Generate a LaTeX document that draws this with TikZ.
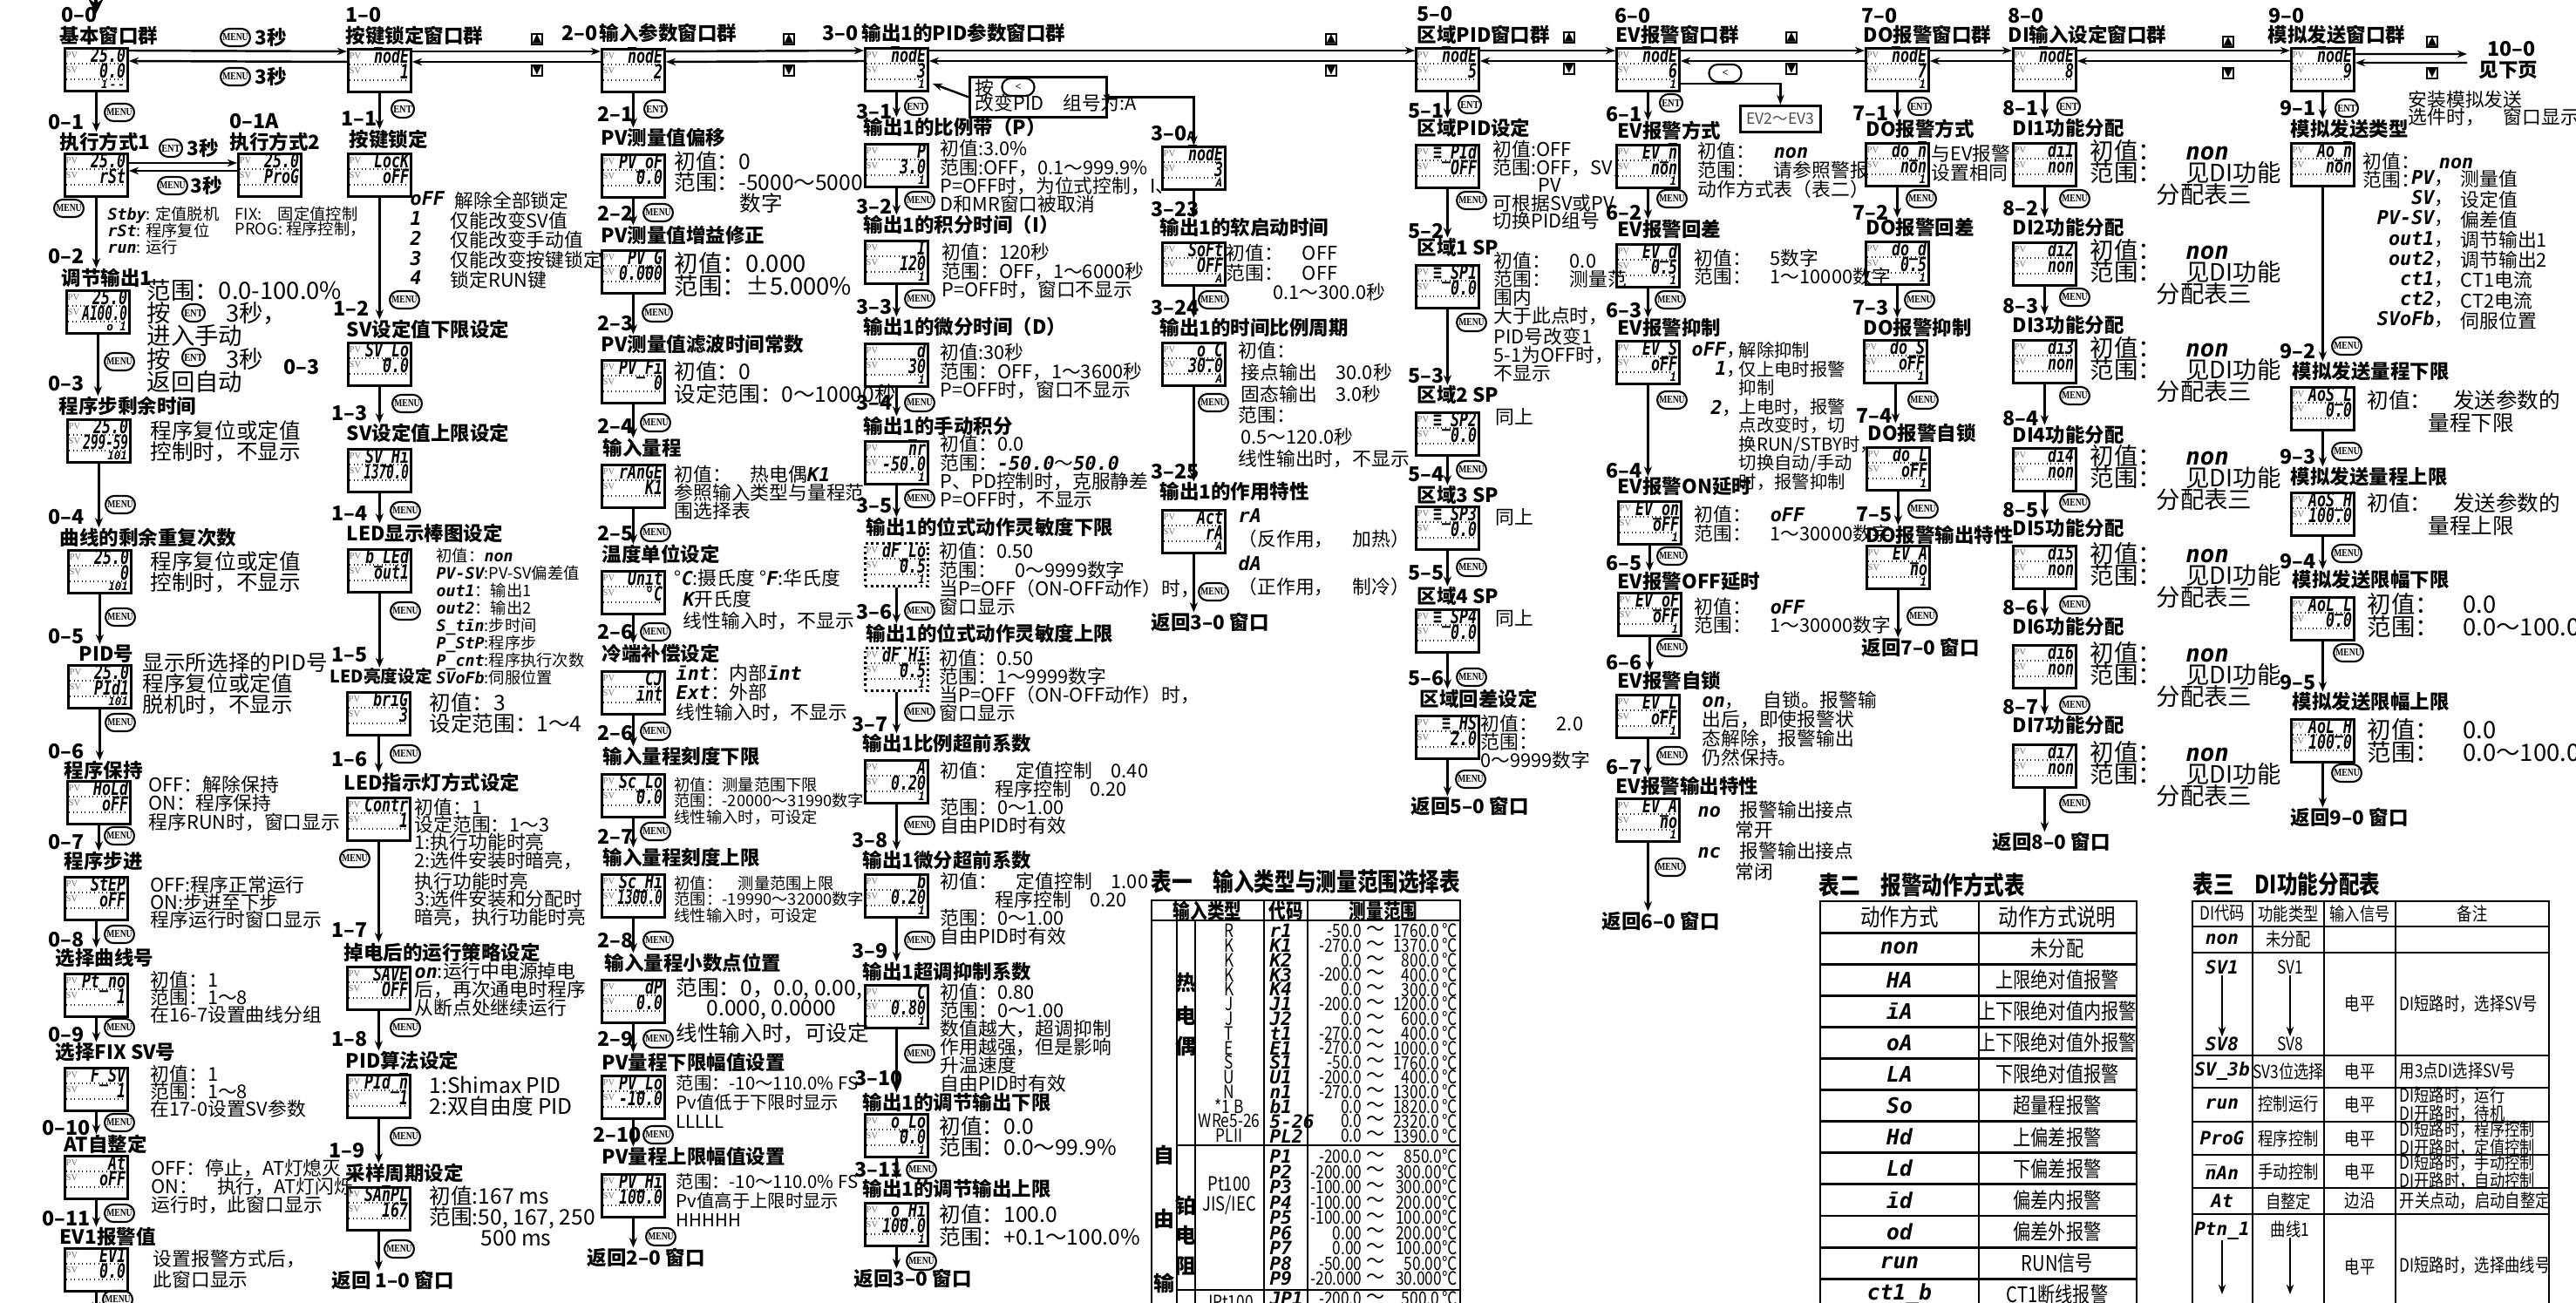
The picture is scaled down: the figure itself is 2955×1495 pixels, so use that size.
\documentclass[tikz,border=0pt]{standalone}
\usepackage{fontspec}
\usepackage{graphicx}
\setmainfont{Noto Sans CJK SC}
\newfontfamily\segfont{DejaVu Sans Mono}
\newfontfamily\keyfont{Liberation Serif}
\newfontfamily\symfont{DejaVu Sans}
\usetikzlibrary{arrows.meta,calc,positioning,shapes.misc}

\newcommand\sevseg[1]{{\segfont\bfseries\itshape #1}}
\newcommand\nbar{$\overline{\mbox{n}}$}
\newcommand\nrw[1]{\scalebox{0.86}[1]{#1}}
\newcommand\cnd[1]{\scalebox{0.82}[1]{#1}}
\newcommand\kmenu{\scalebox{0.78}[1]{MENU}}
\newcommand\kent{\scalebox{0.85}[1]{ENT}}

\tikzset{
  lcdbox/.style={draw, line width=0.8pt, minimum width=7.2mm, minimum height=4.9mm, inner sep=0pt, anchor=north west},
  lcddot/.style={lcdbox, densely dotted},
  lcdtag/.style={font=\keyfont\fontsize{3}{3.2}\selectfont, text=black!55, inner sep=0pt, anchor=west},
  seg/.style={font=\segfont\bfseries\itshape\fontsize{6.4}{6.4}\selectfont, inner sep=0pt, anchor=base east},
  segs/.style={font=\segfont\bfseries\itshape\fontsize{3.6}{3.6}\selectfont, inner sep=0pt, anchor=east},
  key/.style={draw, rounded rectangle, line width=0.6pt, font=\keyfont\bfseries\fontsize{3.5}{3.5}\selectfont, inner xsep=0.4pt, inner ysep=0.6pt, minimum height=2mm},
  sec/.style={font=\bfseries\fontsize{6.4}{6.4}\selectfont, inner sep=0pt},
  num/.style={font=\bfseries\fontsize{6.6}{6.6}\selectfont, inner sep=0pt, anchor=west},
  ttl/.style={font=\bfseries\fontsize{6.4}{6.4}\selectfont, inner sep=0pt, anchor=west},
  dsc/.style={font=\fontsize{6.2}{#1}\selectfont, align=left, anchor=north west, inner sep=0pt, yshift=1mm},
  dsc/.default=6.1,
  dscs/.style={font=\fontsize{5.2}{#1}\selectfont, align=left, anchor=north west, inner sep=0pt, yshift=0.8mm},
  dscs/.default=5.4,
  dscl/.style={font=\fontsize{7}{#1}\selectfont, align=left, anchor=north west, inner sep=0pt, yshift=1.1mm},
  dscl/.default=6.8,
  dscx/.style={font=\fontsize{7.8}{#1}\selectfont, align=left, anchor=north west, inner sep=0pt, yshift=1.25mm},
  dscx/.default=7.5,
  flow/.style={line width=1pt, -{Stealth[length=3.2pt,width=2.6pt]}},
  link/.style={line width=0.7pt, -{Stealth[length=3.2pt,width=2.4pt]}},
  updn/.style={draw, line width=0.4pt, inner sep=0.2pt, font=\symfont\fontsize{4}{4}\selectfont},
  note/.style={draw, line width=0.8pt, anchor=north west, inner sep=0pt},
  tbl/.style={font=\fontsize{6}{6}\selectfont, inner sep=0pt},
  tblh/.style={font=\bfseries\fontsize{6.8}{6.8}\selectfont, inner sep=0pt},
}

% LCD window: style, name, x, y, upper, lower, small
\newcommand\lcd[7][lcdbox]{%
  \node[#1] (#2) at (#3,#4) {};
  \node[lcdtag] (#2pv) at ([shift={(2,9)}]#2.north west) {PV};
  \node[lcdtag] (#2sv) at ([shift={(2,26)}]#2.north west) {SV};
  \node[seg] (#2up) at ([shift={(-3,17.5)}]#2.north east) {\scalebox{0.74}[1]{#5}};
  \node[seg] (#2lo) at ([shift={(-3,35.5)}]#2.north east) {\scalebox{0.74}[1]{#6}};
  \draw[densely dotted, line width=0.3pt] ([shift={(3,19)}]#2.north west) -- ([shift={(-3,19)}]#2.north east);
  \draw[densely dotted, line width=0.3pt] ([shift={(3,37)}]#2.north west) -- ([shift={(-3,37)}]#2.north east);
  \node[segs] (#2sm) at ([shift={(-4,43)}]#2.north east) {#7};
}

\begin{document}
\begin{tikzpicture}[x=0.1mm,y=-0.1mm]
\path[use as bounding box, fill=white] (0,0) rectangle (2955,1495);
\clip (0,0) rectangle (2955,1495);

% ---------- 0: basic windows
\node[num] (n00) at (70,17) {0–0};
\coordinate (in0) at (110,0);
\coordinate (in0e) at (110,16);
\draw[line width=1pt, -{Stealth[length=5pt,width=5pt]}] (in0) -- (in0e);
\node[ttl] (t00) at (68,41) {基本窗口群};
\lcd{b00}{73}{54}{25.0}{0.0}{1\,-\,-}
\node[key] (k00a) at (270,43) {\kmenu};
\node[sec, right=0.4mm of k00a] (s00a) {3秒};
\node[key] (k00b) at (270,88) {\kmenu};
\node[sec, right=0.4mm of k00b] (s00b) {3秒};

\node[num] (n01) at (55,140) {0–1};
\node[ttl] (t01) at (68,163) {执行方式1};
\lcd{b01}{73}{175}{25.0}{rSt}{}
\node[num] (n01a) at (263,139) {0–1A};
\node[ttl] (t01a) at (263,163) {执行方式2};
\lcd{b01a}{272}{175}{25.0}{ProG}{}
\draw[link] ([yshift=-1.2mm]b01.north east) -- ([yshift=-1.2mm]b01a.north west);
\draw[link] ([yshift=-2.1mm]b01a.north west) -- ([yshift=-2.1mm]b01.north east);
\node[key] (k01b) at (196,170) {\kent};
\node[sec, right=0.4mm of k01b] (s01b) {3秒};
\node[key] (k01c) at (198,213) {\kmenu};
\node[sec, right=0.2mm of k01c] (s01c) {3秒};
\node[dscs=5.5] (d01) at (123,244) {\sevseg{Stby}: 定值脱机\\\sevseg{rSt}: 程序复位\\\sevseg{run}: 运行};
\node[dscs=4.9] (d01a) at (269,244) {FIX:\quad 固定值控制\\PROG: 程序控制，};

\node[num] (n02) at (55,294) {0–2};
\node[ttl] (t02) at (70,319) {调节输出1};
\lcd{b02}{75}{332}{25.0}{\nrw{A100.0}}{o\ 1}
\node[dscx] (d02) at (168,332) {范围：0.0-100.0\%\\按\hspace*{6.3mm}3秒，\\进入手动\\按\hspace*{6.3mm}3秒\\返回自动};
\node[key] (k02a) at (222,359) {\kent};
\node[key] (k02b) at (222,410) {\kent};
\node[num] (n03x) at (325,421) {0–3};

\node[num] (n03) at (55,440) {0–3};
\node[ttl] (t03) at (67,466) {程序步剩余时间};
\lcd{b03}{76}{480}{25.0}{\nrw{299-59}}{101}
\node[dscl] (d03) at (172,493) {程序复位或定值\\控制时，不显示};

\node[num] (n04) at (55,593) {0–4};
\node[ttl] (t04) at (68,617) {曲线的剩余重复次数};
\lcd{b04}{77}{630}{25.0}{0}{101}
\node[dscl] (d04) at (172,643) {程序复位或定值\\控制时，不显示};

\node[num] (n05) at (55,730) {0–5};
\node[ttl] (t05) at (90,750) {PID号};
\lcd{b05}{77}{762}{25.0}{PId1}{101}
\node[dscl] (d05) at (163,759) {显示所选择的PID号\\程序复位或定值\\脱机时，不显示};

\node[num] (n06) at (55,862) {0–6};
\node[ttl] (t06) at (73,884) {程序保持};
\lcd{b06}{76}{895}{HoLd}{oFF}{}
\node[dsc] (d06) at (170,899) {OFF：解除保持\\ON：程序保持\\程序RUN时，窗口显示};

\node[num] (n07) at (55,966) {0–7};
\node[ttl] (t07) at (73,988) {程序步进};
\lcd{b07}{73}{1005}{StEP}{oFF}{}
\node[dsc=5.8] (d07) at (172,1014) {OFF:程序正常运行\\ON:步进至下步\\程序运行时窗口显示};

\node[num] (n08) at (55,1078) {0–8};
\node[ttl] (t08) at (63,1099) {选择曲线号};
\lcd{b08}{73}{1116}{Pt\_no}{1}{}
\node[dsc=5.8] (d08) at (172,1123) {初值：1\\范围：1～8\\在16-7设置曲线分组};

\node[num] (n09) at (55,1187) {0–9};
\node[ttl] (t09) at (63,1207) {选择FIX SV号};
\lcd{b09}{73}{1224}{F\_SV}{1}{}
\node[dsc=5.8] (d09) at (172,1231) {初值：1\\范围：1～8\\在17-0设置SV参数};

\node[num] (n010) at (48,1294) {0–10};
\node[ttl] (t010) at (73,1313) {AT自整定};
\lcd{b010}{73}{1325}{At}{oFF}{}
\node[dsc] (d010) at (173,1339) {OFF：停止，AT灯熄灭\\ON：\quad 执行，AT灯闪烁\\运行时，此窗口显示};

\node[num] (n011) at (48,1398) {0–11};
\node[ttl] (t011) at (68,1419) {EV1报警值};
\lcd{b011}{73}{1431}{EV1}{0.0}{}
\node[dsc=5.5] (d011) at (175,1443) {设置报警方式后，\\此窗口显示};
\coordinate (e011) at (109,1505);
\draw[flow] (b011.south) -- (b011.south |- e011);

\foreach \n/\x/\y in {01/137/129, 02/79/239, 03/137/415, 04/138/579, 05/138/708, 06/138/829, 07/137/959, 08/137/1072, 09/137/1179, 010/137/1288, 011/137/1392, 012/135/1491}
  \node[key] (k\n) at (\x,\y) {\kmenu};

% ---------- 1: key lock
\node[num] (n10) at (396,17) {1–0};
\node[ttl] (t10) at (396,41) {按键锁定窗口群};
\lcd{b10}{398}{55}{\nbar odE}{1}{}

\node[num] (n11) at (391,136) {1–1};
\node[ttl] (t11) at (400,160) {按键锁定};
\lcd{b11}{398}{175}{LocK}{oFF}{}
\node[dsc=6.5] (d11a) at (470,229) {\sevseg{oFF}\\\sevseg{1}\\\sevseg{2}\\\sevseg{3}\\\sevseg{4}};
\node[dsc=6.5] (d11b) at (516,229) {\hspace*{0.5mm}解除全部锁定\\仅能改变SV值\\仅能改变手动值\\仅能改变按键锁定\\锁定RUN键};

\node[num] (n12) at (382,354) {1–2};
\node[ttl] (t12) at (397,378) {SV设定值下限设定};
\lcd{b12}{398}{392}{SV\_Lo}{0.0}{}

\node[num] (n13) at (380,474) {1–3};
\node[ttl] (t13) at (397,497) {SV设定值上限设定};
\lcd{b13}{398}{514}{SV\_Hī}{\nrw{1370.0}}{}

\node[num] (n14) at (380,589) {1–4};
\node[ttl] (t14) at (397,612) {LED显示棒图设定};
\lcd{b14}{398}{629}{b\_LEd}{out1}{}
\node[dscs=5.7] (d14) at (500,636) {初值：\sevseg{non}\\\sevseg{PV-SV}:PV-SV偏差值\\\sevseg{out1}：输出1\\\sevseg{out2}：输出2\\\sevseg{S\_tīn}:步时间\\\sevseg{P\_StP}:程序步\\\sevseg{P\_cnt}:程序执行次数\\\sevseg{SVoFb}:伺服位置};

\node[num] (n15) at (380,751) {1–5};
\node[ttl, font=\bfseries\fontsize{5.6}{5.6}\selectfont] (t15) at (378,776) {LED亮度设定};
\lcd{b15}{397}{793}{brīG}{3}{}
\node[dscl] (d15) at (492,805) {初值：3\\设定范围：1～4};

\node[num] (n16) at (380,871) {1–6};
\node[ttl] (t16) at (394,898) {LED指示灯方式设定};
\lcd{b16}{397}{914}{Contr}{1}{}
\node[dsc=5.8] (d16) at (475,925) {初值：1\\设定范围：1～3\\1:执行功能时亮\\2:选件安装时暗亮，\\执行功能时亮\\3:选件安装和分配时\\暗亮，执行功能时亮};

\node[num] (n17) at (380,1067) {1–7};
\node[ttl] (t17) at (394,1093) {掉电后的运行策略设定};
\lcd{b17}{397}{1108}{SAVE}{OFF}{}
\node[dsc=6] (d17) at (475,1113) {\sevseg{on}:运行中电源掉电\\后，再次通电时程序\\从断点处继续运行};

\node[num] (n18) at (380,1192) {1–8};
\node[ttl] (t18) at (396,1217) {PID算法设定};
\lcd{b18}{397}{1232}{PId\_\nbar}{1}{}
\node[dscl] (d18) at (492,1245) {1:Shimax PID\\2:双自由度 PID};

\node[num] (n19) at (377,1320) {1–9};
\node[ttl] (t19) at (396,1346) {采样周期设定};
\lcd{b19}{397}{1361}{SA\nbar PL}{167}{}
\node[dscl] (d19) at (492,1371) {初值:167 ms\\范围:50, 167, 250\\\hspace*{5.9mm}500 ms};
\node[ttl] (t1e) at (380,1469) {返回 1–0 窗口};

\node[key] (k11) at (462,125) {\kent};
\foreach \n/\x/\y in {12/464/344, 13/467/463, 14/465/586, 15/465/701, 16/465/865, 17/407/985, 18/465/1179, 19/465/1304, 1e/458/1433}
  \node[key] (k\n) at (\x,\y) {\kmenu};

% ---------- 2: input parameters
\node[num] (n20) at (644,38) {2–0};
\node[ttl] (t20) at (687,38) {输入参数窗口群};
\lcd{b20}{689}{55}{\nbar odE}{2}{}

\node[num] (n21) at (685,131) {2–1};
\node[ttl] (t21) at (689,158) {PV测量值偏移};
\lcd{b21}{689}{176}{PV\_oF}{0.0}{}
\node[dscl] (d21) at (773,184) {初值：0\\范围：-5000～5000\\\hspace*{7.5mm}数字};

\node[num] (n22) at (685,245) {2–2};
\node[ttl] (t22) at (689,270) {PV测量值增益修正};
\lcd{b22}{689}{286}{PV\_G}{0.000}{}
\node[dscx] (d22) at (773,301) {初值：0.000\\范围：±5.000\%};

\node[num] (n23) at (685,371) {2–3};
\node[ttl] (t23) at (689,395) {PV测量值滤波时间常数};
\lcd{b23}{689}{412}{PV\_Fī}{0}{}
\node[dscl=6] (d23) at (773,425) {初值：0\\设定范围：0～10000秒};

\node[num] (n24) at (685,489) {2–4};
\node[ttl] (t24) at (691,514) {输入量程};
\lcd{b24}{689}{532}{rAnGE}{K1}{}
\node[dsc=6] (d24) at (773,543) {初值：\quad 热电偶\sevseg{K1}\\参照输入类型与量程范\\围选择表};

\node[num] (n25) at (685,612) {2–5};
\node[ttl] (t25) at (690,636) {温度单位设定};
\lcd{b25}{689}{654}{Unīt}{°C}{}
\node[dsc=7] (d25) at (773,662) {°\sevseg{C}:摄氏度 °\sevseg{F}:华氏度\\\hspace*{1mm}\sevseg{K}开氏度\\\hspace*{1mm}线性输入时，不显示};

\node[num] (n26) at (685,725) {2–6};
\node[ttl] (t26) at (690,750) {冷端补偿设定};
\lcd{b26}{689}{769}{CJ}{īnt}{}
\node[dsc=6.5] (d26) at (775,771) {\sevseg{īnt}：内部\sevseg{īnt}\\\sevseg{Ext}：外部\\线性输入时，不显示};

\node[num] (n27) at (685,841) {2–6};
\node[ttl] (t27) at (691,868) {输入量程刻度下限};
\lcd{b27}{689}{887}{Sc\_Lo}{0.0}{}
\node[dscs=5.3] (d27) at (773,899) {初值：测量范围下限\\范围：-20000～31990数字\\线性输入时，可设定};

\node[num] (n28) at (685,960) {2–7};
\node[ttl] (t28) at (691,984) {输入量程刻度上限};
\lcd{b28}{689}{1002}{Sc\_Hī}{\nrw{1300.0}}{}
\node[dscs=5.3] (d28) at (773,1012) {初值：\quad 测量范围上限\\范围：-19990～32000数字\\线性输入时，可设定};

\node[num] (n29) at (685,1079) {2–8};
\node[ttl] (t29) at (693,1105) {输入量程小数点位置};
\lcd{b29}{689}{1123}{dP}{0.0}{}
\node[dscl=6.5] (d29) at (775,1132) {范围：0，0.0, 0.00,\\\hspace*{3.5mm}0.000, 0.0000\\线性输入时，可设定};

\node[num] (n210) at (685,1192) {2–9};
\node[ttl] (t210) at (690,1219) {PV量程下限幅值设置};
\lcd{b210}{689}{1233}{PV\_Lo}{-10.0}{}
\node[dsc=6.2, font=\fontsize{5.8}{6.2}\selectfont] (d210) at (775,1243) {范围：-10～110.0\% FS\\Pv值低于下限时显示\\LLLLL};

\node[num] (n211) at (680,1302) {2–10};
\node[ttl] (t211) at (690,1327) {PV量程上限幅值设置};
\lcd{b211}{689}{1346}{PV\_Hī}{100.0}{}
\node[dsc=6.2, font=\fontsize{5.8}{6.2}\selectfont] (d211) at (775,1356) {范围：-10～110.0\% FS\\Pv值高于上限时显示\\HHHHH};
\node[ttl] (t2e) at (673,1443) {返回2–0 窗口};

\node[key] (k21) at (752,125) {\kent};
\foreach \n/\x/\y in {22/755/244, 23/754/359, 24/752/485, 25/752/611, 26/752/725, 27/752/839, 28/752/954, 29/755/1079, 210/755/1192, 211/755/1302, 2e/758/1419}
  \node[key] (k\n) at (\x,\y) {\kmenu};

% ---------- 3: PID parameters of output 1
\node[num] (n30) at (943,38) {3–0};
\node[ttl] (t30) at (988,38) {输出1的PID参数窗口群};
\lcd{b30}{991}{54}{\nbar odE}{3}{1}
\node[note, minimum width=15.7mm, minimum height=4.6mm] (pidn) at (1111,87) {};
\node[dsc] (pidt1) at (1118,100) {按};
\node[key, minimum width=4mm] (kpid) at (1168,100) {<};
\node[dsc] (pidt2) at (1118,117) {改变PID\quad 组号为:A};
\draw[link] (pidn.west) -- ([shift={(4,42)}]b30.north east);

\node[num] (n31) at (982,128) {3–1};
\node[ttl] (t31) at (990,146) {输出1的比例带（P）};
\lcd{b31}{991}{164}{P}{3.0}{1}
\node[dsc=6] (d31) at (1078,170) {初值:3.0\%\\范围:OFF，0.1～999.9\%\\P=OFF时，为位式控制，I、\\D和MR窗口被取消};

\node[num] (n32) at (982,237) {3–2};
\node[ttl] (t32) at (990,258) {输出1的积分时间（I）};
\lcd{b32}{991}{275}{I}{120}{1}
\node[dsc=6] (d32) at (1080,289) {初值：120秒\\范围：OFF，1～6000秒\\P=OFF时，窗口不显示};

\node[num] (n33) at (982,352) {3–3};
\node[ttl] (t33) at (990,375) {输出1的微分时间（D）};
\lcd{b33}{991}{393}{d}{30}{1}
\node[dsc=6] (d33) at (1078,404) {初值:30秒\\范围：OFF，1～3600秒\\P=OFF时，窗口不显示};

\node[num] (n34) at (982,462) {3–4};
\node[ttl] (t34) at (990,489) {输出1的手动积分};
\lcd{b34}{991}{505}{\nbar r}{-50.0}{1}
\node[dsc=6] (d34) at (1078,509) {初值：0.0\\范围：\sevseg{-50.0}～\sevseg{50.0}\\P、PD控制时，克服静差\\P=OFF时，不显示};

\node[num] (n35) at (982,580) {3–5};
\node[ttl] (t35) at (993,605) {输出1的位式动作灵敏度下限};
\lcd[lcddot]{b35}{991}{622}{dF\_Lo}{0.5}{1}
\node[dsc=6] (d35) at (1077,632) {初值：0.50\\范围：\quad 0～9999数字\\当P=OFF（ON-OFF动作）时，\\窗口显示};

\node[num] (n36) at (982,702) {3–6};
\node[ttl] (t36) at (993,727) {输出1的位式动作灵敏度上限};
\lcd[lcddot]{b36}{991}{742}{dF\_Hī}{0.5}{1}
\node[dsc=6] (d36) at (1077,754) {初值：0.50\\范围：1～9999数字\\当P=OFF（ON-OFF动作）时，\\窗口显示};

\node[num] (n37) at (977,831) {3–7};
\node[ttl] (t37) at (989,853) {输出1比例超前系数};
\lcd{b37}{991}{871}{A}{0.20}{1}
\node[dsc=6] (d37) at (1078,883) {初值：\quad 定值控制\quad 0.40\\\hspace*{6.3mm}程序控制\quad 0.20\\范围：0～1.00\\自由PID时有效};

\node[num] (n38) at (977,964) {3–8};
\node[ttl] (t38) at (989,987) {输出1微分超前系数};
\lcd{b38}{991}{1002}{b}{0.20}{1}
\node[dsc=6] (d38) at (1078,1010) {初值：\quad 定值控制\quad 1.00\\\hspace*{6.3mm}程序控制\quad 0.20\\范围：0～1.00\\自由PID时有效};

\node[num] (n39) at (977,1091) {3–9};
\node[ttl] (t39) at (989,1115) {输出1超调抑制系数};
\lcd{b39}{991}{1129}{C}{0.80}{1}
\node[dsc=6] (d39) at (1078,1137) {初值：0.80\\范围：0～1.00\\数值越大，超调抑制\\作用越强，但是影响\\升温速度\\自由PID时有效};

\node[num] (n310) at (980,1237) {3–10};
\node[ttl] (t310) at (989,1265) {输出1的调节输出下限};
\lcd{b310}{991}{1277}{o\_Lo}{0.0}{1}
\node[dscl] (d310) at (1077,1291) {初值：0.0\\范围：0.0～99.9\%};

\node[num] (n311) at (980,1342) {3–11};
\node[ttl] (t311) at (989,1364) {输出1的调节输出上限};
\lcd{b311}{991}{1379}{o\_Hī}{100.0}{1}
\node[dscl=6.3] (d311) at (1077,1392) {初值：100.0\\范围：+0.1～100.0\%};
\node[ttl] (t3e) at (979,1467) {返回3–0 窗口};

\node[key] (k31) at (1051,122) {\kent};
\foreach \n/\x/\y in {32/1055/230, 33/1055/343, 34/1055/462, 35/1055/572, 36/1055/701, 37/1055/817, 38/1055/947, 39/1055/1079, 310/1055/1209, 311/1057/1342, 3e/1057/1447}
  \node[key] (k\n) at (\x,\y) {\kmenu};

% ---------- 3-0A
\node[num] (n30a) at (1320,153) {3–0{\fontsize{4}{4}\selectfont A}};
\lcd{b30a}{1332}{167}{\nbar odE}{3}{A}
\draw[link] (pidn.east) -| (b30a.north);
\node[num] (n323) at (1320,240) {3–23};
\node[ttl] (t323) at (1330,261) {输出1的软启动时间};
\lcd{b323}{1332}{277}{SoFt}{OFF}{A}
\node[dsc=6.3] (d323) at (1406,290) {初值：\quad OFF\\范围：\quad OFF\\\hspace*{5.4mm}0.1～300.0秒};
\node[num] (n324) at (1320,353) {3–24};
\node[ttl] (t324) at (1330,376) {输出1的时间比例周期};
\lcd{b324}{1332}{392}{o\_C}{30.0}{A}
\node[dsc=7] (d324) at (1420,402) {初值：\\\hspace*{0.3mm}接点输出\quad 30.0秒\\\hspace*{0.3mm}固态输出\quad 3.0秒\\范围：\\\hspace*{0.3mm}0.5～120.0秒\\线性输出时，不显示};
\node[num] (n325) at (1320,541) {3–25};
\node[ttl] (t325) at (1330,564) {输出1的作用特性};
\lcd{b325}{1332}{584}{Act}{rA}{A}
\node[dsc=7.8] (d325) at (1420,593) {\sevseg{rA}\\（反作用，\quad 加热）\\\sevseg{dA}\\（正作用，\quad 制冷）};
\node[ttl] (t3ae) at (1320,714) {返回3–0 窗口};
\foreach \n/\x/\y in {324/1392/344, 325/1392/462, 3ae/1392/679}
  \node[key] (k\n) at (\x,\y) {\kmenu};

% ---------- 5: zone PID
\node[num] (n50) at (1625,16) {5–0};
\node[ttl] (t50) at (1625,40) {区域PID窗口群};
\lcd{b50}{1623}{54}{\nbar odE}{5}{}
\node[num] (n51) at (1615,127) {5–1};
\node[ttl] (t51) at (1625,147) {区域PID设定};
\lcd{b51}{1623}{165}{≡\_PId}{OFF}{}
\node[dsc=5.8] (d51) at (1712,171) {初值:OFF\\范围:OFF，SV，\\\hspace*{5.2mm}PV\\可根据SV或PV\\切换PID组号};
\node[num] (n52) at (1615,265) {5–2};
\node[ttl] (t52) at (1625,284) {区域1 SP};
\lcd{b52}{1623}{303}{≡\_SP1}{0.0}{}
\node[dsc=5.9] (d52) at (1713,299) {初值：\quad 0.0\\范围：\quad 测量范\\围内\\大于此点时，\\PID号改变1\\5-1为OFF时，\\不显示};
\node[num] (n53) at (1615,431) {5–3};
\node[ttl] (t53) at (1625,453) {区域2 SP};
\lcd{b53}{1623}{472}{≡\_SP2}{0.0}{}
\node[dsc] (d53) at (1715,478) {同上};
\node[num] (n54) at (1615,544) {5–4};
\node[ttl] (t54) at (1625,568) {区域3 SP};
\lcd{b54}{1623}{580}{≡\_SP3}{0.0}{}
\node[dsc] (d54) at (1715,593) {同上};
\node[num] (n55) at (1615,657) {5–5};
\node[ttl] (t55) at (1625,684) {区域4 SP};
\lcd{b55}{1623}{698}{≡\_SP4}{0.0}{}
\node[dsc] (d55) at (1715,709) {同上};
\node[num] (n56) at (1615,778) {5–6};
\node[ttl] (t56) at (1628,802) {区域回差设定};
\lcd{b56}{1623}{820}{≡\_HS}{2.0}{}
\node[dsc=6.1] (d56) at (1698,829) {初值：\quad 2.0\\范围：\\0～9999数字};
\node[ttl] (t5e) at (1618,925) {返回5–0 窗口};
\node[key] (k51) at (1686,120) {\kent};
\foreach \n/\x/\y in {52/1688/230, 53/1688/370, 54/1688/539, 55/1688/651, 56/1688/777, 5e/1687/894}
  \node[key] (k\n) at (\x,\y) {\kmenu};

% ---------- 6: EV alarm
\node[num] (n60) at (1852,18) {6–0};
\node[ttl] (t60) at (1853,40) {EV报警窗口群};
\lcd{b60}{1853}{54}{\nbar odE}{6}{1}
\node[key, minimum width=4mm] (k6l) at (1979,84) {<};
\node[note, minimum width=9.2mm, minimum height=3mm, font=\fontsize{5}{5}\selectfont, text=black!70] (ev23) at (1995,120) {EV2～EV3};
\draw[link] ([shift={(0,42)}]b60.north east) -| (ev23.north);
\node[num] (n61) at (1842,131) {6–1};
\node[ttl] (t61) at (1855,150) {EV报警方式};
\lcd{b61}{1853}{165}{EV\_\nbar}{non}{1}
\node[dsc=6.2] (d61) at (1947,173) {初值：\quad \sevseg{non}\\范围：\quad 请参照警报\\动作方式表（表二）};
\node[num] (n62) at (1842,244) {6–2};
\node[ttl] (t62) at (1855,263) {EV报警回差};
\lcd{b62}{1853}{279}{EV\_d}{0.5}{1}
\node[dsc=6] (d62) at (1943,295) {初值：\quad 5数字\\范围：\quad 1～10000数字};
\node[num] (n63) at (1842,356) {6–3};
\node[ttl] (t63) at (1855,376) {EV报警抑制};
\lcd{b63}{1853}{390}{EV\_S}{oFF}{1}
\node[dsc] (d63a) at (1940,402) {\sevseg{oFF}，};
\node[dsc] (d63b) at (1967,424) {\sevseg{1}，};
\node[dsc] (d63c) at (1962,469) {\sevseg{2}，};
\node[dsc=6.1, font=\fontsize{5.8}{6.1}\selectfont] (d63d) at (1994,402) {解除抑制\\仅上电时报警\\抑制\\上电时，报警\\点改变时，切\\换RUN/STBY时，\\切换自动/手动\\时，报警抑制};
\node[num] (n64) at (1842,540) {6–4};
\node[ttl] (t64) at (1855,558) {EV报警ON延时};
\lcd{b64}{1855}{574}{EV\_on}{oFF}{1}
\node[dsc=6.2] (d64) at (1943,590) {初值：\quad \sevseg{oFF}\\范围：\quad 1～30000数字};
\node[num] (n65) at (1842,646) {6–5};
\node[ttl] (t65) at (1855,667) {EV报警OFF延时};
\lcd{b65}{1855}{679}{EV\_oF}{oFF}{1}
\node[dsc=6.2] (d65) at (1943,695) {初值：\quad \sevseg{oFF}\\范围：\quad 1～30000数字};
\node[num] (n66) at (1842,760) {6–6};
\node[ttl] (t66) at (1855,781) {EV报警自锁};
\lcd{b66}{1853}{796}{EV\_L}{oFF}{1}
\node[dsc=6.3] (d66) at (1952,802) {\sevseg{on}，\quad 自锁。报警输\\出后，即使报警状\\态解除，报警输出\\仍然保持。};
\node[num] (n67) at (1842,880) {6–7};
\node[ttl] (t67) at (1853,902) {EV报警输出特性};
\lcd{b67}{1853}{915}{EV\_A}{no}{1}
\node[dsc=6.8] (d67) at (1947,928) {\sevseg{no}\quad 报警输出接点\\\hspace*{4.3mm}常开\\\sevseg{nc}\quad 报警输出接点\\\hspace*{4.3mm}常闭};
\node[ttl] (t6e) at (1837,1057) {返回6–0 窗口};
\node[key] (k61) at (1917,118) {\kent};
\foreach \n/\x/\y in {62/1918/228, 63/1916/344, 64/1918/459, 65/1918/638, 66/1918/743, 67/1918/867, 6e/1916/995}
  \node[key] (k\n) at (\x,\y) {\kmenu};

% ---------- 7: DO alarm
\node[num] (n70) at (2135,18) {7–0};
\node[ttl] (t70) at (2137,40) {DO报警窗口群};
\lcd{b70}{2139}{54}{\nbar odE}{7}{1}
\node[num] (n71) at (2125,130) {7–1};
\node[ttl] (t71) at (2140,148) {DO报警方式};
\lcd{b71}{2139}{163}{do\_\nbar}{non}{1}
\node[dsc=6.5] (d71) at (2215,175) {与EV报警\\设置相同};
\node[num] (n72) at (2125,244) {7–2};
\node[ttl] (t72) at (2140,261) {DO报警回差};
\lcd{b72}{2139}{276}{do\_d}{0.5}{1}
\node[num] (n73) at (2125,353) {7–3};
\node[ttl] (t73) at (2137,376) {DO报警抑制};
\lcd{b73}{2137}{389}{do\_S}{oFF}{1}
\node[num] (n74) at (2129,477) {7–4};
\node[ttl] (t74) at (2142,497) {DO报警自锁};
\lcd{b74}{2140}{512}{do\_L}{oFF}{1}
\node[num] (n75) at (2129,590) {7–5};
\node[ttl] (t75) at (2140,614) {DO报警输出特性};
\lcd{b75}{2140}{625}{EV\_A}{no}{1}
\node[ttl] (t7e) at (2135,743) {返回7–0 窗口};
\node[key] (k71) at (2202,122) {\kent};
\foreach \n/\x/\y in {72/2204/228, 73/2202/344, 74/2206/459, 75/2206/584, 7e/2205/707}
  \node[key] (k\n) at (\x,\y) {\kmenu};

% ---------- 8: DI input
\node[num] (n80) at (2303,18) {8–0};
\node[ttl] (t80) at (2303,40) {DI输入设定窗口群};
\lcd{b80}{2308}{54}{\nbar odE}{8}{}
\foreach \i/\yn/\yt/\yb in {1/124/147/163, 2/239/261/277, 3/351/373/389, 4/480/499/513, 5/585/606/625, 6/697/719/739, 7/811/832/853} {
  \node[num] (n8\i) at (2297,\yn) {8–\i};
  \node[ttl] (t8\i) at (2308,\yt) {DI\i{}功能分配};
  \lcd{b8\i}{2308}{\yb}{dī\i}{non}{}
  \node[dscx=7.2] (d8\i) at (2397,\yb+9) {初值：\quad \sevseg{non}\\范围：\quad 见DI功能\\\hspace*{7.6mm}分配表三};
}
\node[ttl] (t8e) at (2285,966) {返回8–0 窗口};
\node[key] (k81) at (2373,122) {\kent};
\foreach \n/\y in {82/228, 83/341, 84/454, 85/577, 86/694, 87/809, 8e/922}
  \node[key] (k\n) at (2380,\y) {\kmenu};

% ---------- 9: analog transmission
\node[num] (n90) at (2602,18) {9–0};
\node[ttl] (t90) at (2601,40) {模拟发送窗口群};
\lcd{b90}{2627}{54}{\nbar odE}{9}{}
\node[num] (n100) at (2853,56) {10–0};
\node[ttl] (t100) at (2843,80) {见下页};
\coordinate (c100a) at (2830,62);
\coordinate (c100b) at (2830,72);
\draw[link] ([yshift=-0.8mm]b90.north east) -- (c100a);
\draw[link] (c100b) -- ([yshift=-1.8mm]b90.north east);
\node[dsc=5.9] (d90) at (2762,113) {安装模拟发送\\选件时，\quad 窗口显示};
\node[num] (n91) at (2615,124) {9–1};
\node[ttl] (t91) at (2627,148) {模拟发送类型};
\lcd{b91}{2627}{163}{Ao\_\nbar}{non}{}
\node[dsc=5.8] (d91a) at (2710,185) {初值：\quad \sevseg{non}\\范围：};
\node[dsc=6.6, align=right, anchor=north east] (d91b) at (2815,205) {\sevseg{PV}，\\\sevseg{SV}，\\\sevseg{PV-SV}，\\\sevseg{out1}，\\\sevseg{out2}，\\\sevseg{ct1}，\\\sevseg{ct2}，\\\sevseg{SVoFb}，};
\node[dsc=6.6] (d91c) at (2822,205) {测量值\\设定值\\偏差值\\调节输出1\\调节输出2\\CT1电流\\CT2电流\\伺服位置};
\node[num] (n92) at (2615,403) {9–2};
\node[ttl] (t92) at (2629,426) {模拟发送量程下限};
\lcd{b92}{2627}{443}{AoS\_L}{0.0}{}
\node[dscl=6.2] (d92) at (2715,458) {初值：\quad 发送参数的\\\hspace*{7mm}量程下限};
\node[num] (n93) at (2615,524) {9–3};
\node[ttl] (t93) at (2627,547) {模拟发送量程上限};
\lcd{b93}{2627}{564}{AoS\_H}{100.0}{}
\node[dscl=6.2] (d93) at (2715,576) {初值：\quad 发送参数的\\\hspace*{7mm}量程上限};
\node[num] (n94) at (2615,644) {9–4};
\node[ttl] (t94) at (2629,665) {模拟发送限幅下限};
\lcd{b94}{2627}{684}{AoL\_L}{0.0}{}
\node[dscx] (d94) at (2715,692) {初值：\quad 0.0\\范围：\quad 0.0～100.0\%};
\node[num] (n95) at (2615,783) {9–5};
\node[ttl] (t95) at (2629,805) {模拟发送限幅上限};
\lcd{b95}{2627}{824}{AoL\_H}{100.0}{}
\node[dscx] (d95) at (2715,836) {初值：\quad 0.0\\范围：\quad 0.0～100.0\%};
\node[ttl] (t9e) at (2627,938) {返回9–0 窗口};
\node[key] (k91) at (2692,124) {\kent};
\foreach \n/\x/\y in {92/2692/397, 93/2692/518, 94/2692/635, 95/2694/749, 9e/2692/887}
  \node[key] (k\n) at (\x,\y) {\kmenu};

% ---------- group links along the top
\foreach \a/\b in {00/10, 10/20, 20/30, 30/50, 50/60, 60/70, 70/80, 80/90} {
  \draw[link] ([yshift=-0.4mm]b\a.north east) -- ([yshift=-0.4mm]b\b.north west);
  \draw[link] ([yshift=-1.6mm]b\b.north west) -- ([yshift=-1.6mm]b\a.north east);
}
\foreach \x/\y [count=\i] in {616/45, 905/45, 1527/45, 1800/43, 2055/43, 2556/48, 2790/48} {
  \node[updn] (up\i) at (\x,\y) {▲};
  \node[updn] (dn\i) at (\x,\y+36) {▼};
}

% ---------- flow down each column
\foreach \a/\b in {00/01, 01/02, 02/03, 03/04, 04/05, 05/06, 06/07, 07/08, 08/09, 09/010, 010/011,
    10/11, 11/12, 12/13, 13/14, 14/15, 15/16, 16/17, 17/18, 18/19, 19/1e,
    20/21, 21/22, 22/23, 23/24, 24/25, 25/26, 26/27, 27/28, 28/29, 29/210, 210/211, 211/2e,
    30/31, 31/32, 32/33, 33/34, 34/35, 35/36, 36/37, 37/38, 38/39, 39/310, 310/311, 311/3e,
    30a/323, 323/324, 324/325, 325/3ae,
    50/51, 51/52, 52/53, 53/54, 54/55, 55/56, 56/5e,
    60/61, 61/62, 62/63, 63/64, 64/65, 65/66, 66/67, 67/6e,
    70/71, 71/72, 72/73, 73/74, 74/75, 75/7e,
    80/81, 81/82, 82/83, 83/84, 84/85, 85/86, 86/87, 87/8e,
    90/91, 91/92, 92/93, 93/94, 94/95, 95/9e}
  \draw[flow] (b\a.south) -- (b\a.south |- t\b.north);

% ---------- table 1
\node[tbl, anchor=west, font=\bfseries\fontsize{8.2}{8.2}\selectfont] (tab1) at (1320,1012) {\cnd{表一\quad 输入类型与测量范围选择表}};
\draw[line width=0.8pt] (1321,1500) -- (1321,1033) -- (1675,1033) -- (1675,1500);
\draw[line width=0.8pt] (1321,1056) -- (1675,1056);
\draw[line width=0.8pt] (1350,1056) -- (1350,1500);
\draw[line width=0.6pt] (1371,1056) -- (1371,1500);
\draw[line width=0.8pt] (1450,1033) -- (1450,1500);
\draw[line width=0.8pt] (1500,1033) -- (1500,1500);
\draw[line width=0.8pt] (1350,1314) -- (1675,1314);
\draw[line width=0.8pt] (1350,1480) -- (1675,1480);
\node[tblh] (th1) at (1385,1045) {\cnd{输入类型}};
\node[tblh] (th2) at (1475,1045) {\cnd{代码}};
\node[tblh] (th3) at (1587,1045) {\cnd{测量范围}};
\foreach \c/\y [count=\i] in {自/1325, 由/1398, 输/1472}
  \node[tblh] (va\i) at (1335,\y) {\c};
\foreach \c/\y [count=\i] in {热/1127, 电/1165, 偶/1200, 铂/1383, 电/1417, 阻/1453}
  \node[tblh] (vb\i) at (1360,\y) {\c};
\foreach \ty/\cd/\lo/\hi [count=\k from 0] in {R/r1/-50.0/1760.0, K/K1/-270.0/1370.0, K/K2/0.0/800.0, K/K3/-200.0/400.0, K/K4/0.0/300.0, J/J1/-200.0/1200.0, J/J2/0.0/600.0, T/t1/-270.0/400.0, E/E1/-270.0/1000.0, S/S1/-50.0/1760.0, U/U1/-200.0/400.0, N/n1/-270.0/1300.0, *1 B/b1/0.0/1820.0, WRe5-26/5-26/0.0/2320.0, PLII/PL2/0.0/1390.0} {
  \pgfmathsetmacro\yy{1068+16.8*\k}
  \node[tbl] (ty\k) at (1410,\yy) {\cnd{\ty}};
  \node[tbl, anchor=west] (cd\k) at (1456,\yy) {\sevseg{\cd}};
  \node[tbl, anchor=east] (lo\k) at (1563,\yy) {\cnd{\lo}};
  \node[tbl] (tl\k) at (1578,\yy) {～};
  \node[tbl, anchor=east] (hi\k) at (1672,\yy) {\cnd{\hi\,℃}};
}
\node[tbl, align=center, font=\fontsize{6.4}{6.4}\selectfont] (pt100) at (1410,1372) {\cnd{Pt100}\\\cnd{JIS/IEC}};
\foreach \lo/\hi [count=\k] in {-200.0/850.0, -200.00/300.00, -100.00/300.00, -100.00/200.00, -100.00/100.00, 0.00/200.00, 0.00/100.00, -50.00/50.00, -20.000/30.000} {
  \pgfmathsetmacro\yy{1309.5+17.5*\k}
  \node[tbl, anchor=west] (pc\k) at (1456,\yy) {\sevseg{P\k}};
  \node[tbl, anchor=east] (pl\k) at (1563,\yy) {\cnd{\lo}};
  \node[tbl] (pm\k) at (1578,\yy) {～};
  \node[tbl, anchor=east] (ph\k) at (1672,\yy) {\cnd{\hi℃}};
}
\node[tbl] (jpt) at (1410,1494) {\cnd{JPt100}};
\node[tbl, anchor=west] (jpc) at (1456,1490) {\sevseg{JP1}};
\node[tbl, anchor=east] (jpl) at (1563,1490) {\cnd{-200.0}};
\node[tbl] (jpm) at (1578,1490) {～};
\node[tbl, anchor=east] (jph) at (1672,1490) {\cnd{500.0\,℃}};

% ---------- table 2
\node[tbl, anchor=west, font=\bfseries\fontsize{8.2}{8.2}\selectfont] (tab2) at (2086,1015) {\cnd{表二\quad 报警动作方式表}};
\draw[line width=0.8pt] (2088,1500) -- (2088,1034) -- (2451,1034) -- (2451,1500);
\draw[line width=0.8pt] (2270,1034) -- (2270,1500);
\foreach \k in {1,...,12}
  \draw[line width=0.8pt] (2088,1034+36.1*\k) -- (2451,1034+36.1*\k);
\node[tblh, font=\fontsize{7.8}{7.8}\selectfont] (h21) at (2179,1052) {\cnd{动作方式}};
\node[tblh, font=\fontsize{7.8}{7.8}\selectfont] (h22) at (2360,1052) {\cnd{动作方式说明}};
\foreach \cd/\tx [count=\k] in {non/未分配, HA/上限绝对值报警, īA/上下限绝对值内报警, oA/上下限绝对值外报警, LA/下限绝对值报警, So/超量程报警, Hd/上偏差报警, Ld/下偏差报警, īd/偏差内报警, od/偏差外报警, run/RUN信号, ct1\_b/CT1断线报警} {
  \pgfmathsetmacro\yy{1052+36.1*\k}
  \node[tbl, font=\fontsize{7}{7}\selectfont] (ac\k) at (2179,\yy) {\sevseg{\cd}};
  \node[tbl, font=\fontsize{7}{7}\selectfont] (ad\k) at (2360,\yy) {\cnd{\tx}};
}

% ---------- table 3
\node[tbl, anchor=west, font=\bfseries\fontsize{8.2}{8.2}\selectfont] (tab3) at (2515,1015) {\cnd{表三\quad DI功能分配表}};
\draw[line width=0.8pt] (2515,1500) -- (2515,1034) -- (2924,1034) -- (2924,1500);
\foreach \x in {2584, 2666, 2748}
  \draw[line width=0.8pt] (\x,1034) -- (\x,1500);
\foreach \y in {1063, 1093, 1211, 1248, 1287, 1325, 1363, 1393}
  \draw[line width=0.8pt] (2515,\y) -- (2924,\y);
\node[tblh, font=\fontsize{6}{6}\selectfont] (h31) at (2549,1048) {\cnd{DI代码}};
\node[tblh, font=\fontsize{6}{6}\selectfont] (h32) at (2625,1048) {\cnd{功能类型}};
\node[tblh, font=\fontsize{6}{6}\selectfont] (h33) at (2707,1048) {\cnd{输入信号}};
\node[tblh, font=\fontsize{6}{6}\selectfont] (h34) at (2836,1048) {\cnd{备注}};
\node[tbl] (r1a) at (2549,1078) {\sevseg{non}};
\node[tbl] (r1b) at (2625,1078) {\cnd{未分配}};
\node[tbl] (r2a) at (2549,1110) {\sevseg{SV1}};
\node[tbl] (r2c) at (2549,1198) {\sevseg{SV8}};
\draw[link, line width=0.5pt] (r2a.south) -- (r2c.north);
\node[tbl] (r2b) at (2627,1110) {\cnd{SV1}};
\node[tbl] (r2d) at (2627,1198) {\cnd{SV8}};
\draw[link, line width=0.5pt] (r2b.south) -- (r2d.north);
\node[tbl] (r2e) at (2707,1152) {\cnd{电平}};
\node[tbl, anchor=west] (r2f) at (2752,1152) {\cnd{DI短路时，选择SV号}};
\node[tbl] (r3a) at (2549,1229) {\sevseg{SV\_3b}};
\node[tbl] (r3b) at (2625,1229) {\cnd{SV3位选择}};
\node[tbl] (r3e) at (2707,1229) {\cnd{电平}};
\node[tbl, anchor=west] (r3f) at (2752,1229) {\cnd{用3点DI选择SV号}};
\node[tbl] (r4a) at (2549,1267) {\sevseg{run}};
\node[tbl] (r4b) at (2625,1267) {\cnd{控制运行}};
\node[tbl] (r4e) at (2707,1267) {\cnd{电平}};
\node[tbl, anchor=west, align=left] (r4f) at (2752,1267) {\cnd{DI短路时，运行}\\\cnd{DI开路时，待机}};
\node[tbl] (r5a) at (2549,1306) {\sevseg{ProG}};
\node[tbl] (r5b) at (2625,1306) {\cnd{程序控制}};
\node[tbl] (r5e) at (2707,1306) {\cnd{电平}};
\node[tbl, anchor=west, align=left] (r5f) at (2752,1306) {\cnd{DI短路时，程序控制}\\\cnd{DI开路时，定值控制}};
\node[tbl] (r6a) at (2549,1344) {\sevseg{\nbar An}};
\node[tbl] (r6b) at (2625,1344) {\cnd{手动控制}};
\node[tbl] (r6e) at (2707,1344) {\cnd{电平}};
\node[tbl, anchor=west, align=left] (r6f) at (2752,1344) {\cnd{DI短路时，手动控制}\\\cnd{DI开路时，自动控制}};
\node[tbl] (r7a) at (2549,1378) {\sevseg{At}};
\node[tbl] (r7b) at (2625,1378) {\cnd{自整定}};
\node[tbl] (r7e) at (2707,1378) {\cnd{边沿}};
\node[tbl, anchor=west] (r7f) at (2752,1378) {\cnd{开关点动，启动自整定}};
\node[tbl] (r8a) at (2549,1412) {\sevseg{Ptn\_1}};
\node[tbl] (r8b) at (2627,1410) {\cnd{曲线1}};
\coordinate (r8c) at (2549,1485);
\coordinate (r8d) at (2627,1485);
\draw[link, line width=0.5pt] (r8a.south) -- (r8c);
\draw[link, line width=0.5pt] (r8b.south) -- (r8d);
\node[tbl] (r8e) at (2707,1453) {\cnd{电平}};
\node[tbl, anchor=west] (r8f) at (2752,1452) {\cnd{DI短路时，选择曲线号}};

\end{tikzpicture}
\end{document}
